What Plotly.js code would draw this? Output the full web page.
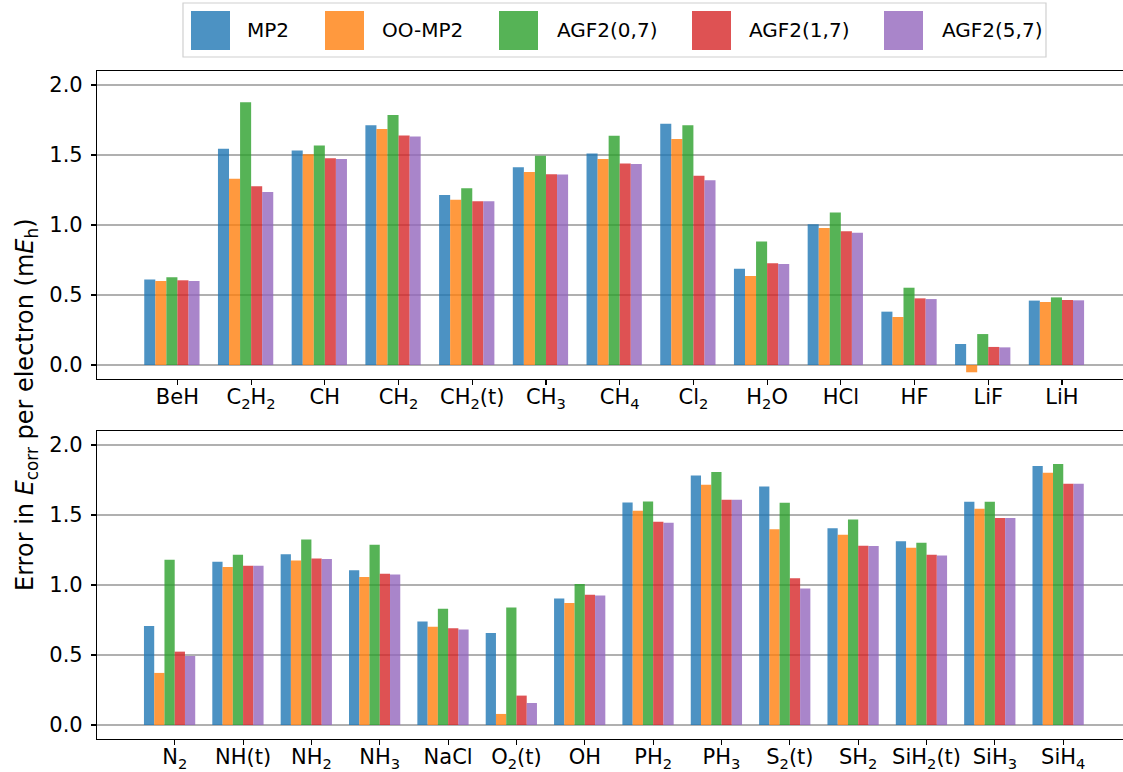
<!DOCTYPE html>
<html>
<head>
<meta charset="utf-8">
<script src="https://cdn.plot.ly/plotly-3.0.1.min.js"></script>
<style>
  html, body { margin: 0; padding: 0; background: #ffffff; }
  #chart { width: 1123px; height: 772px; }
</style>
</head>
<body>
<div id="chart"></div>
<script>
// ---------------- data ----------------
const seriesNames = ['MP2', 'OO-MP2', 'AGF2(0,7)', 'AGF2(1,7)', 'AGF2(5,7)'];
const seriesColors = ['rgba(31,119,180,0.8)', 'rgba(255,127,14,0.8)', 'rgba(44,160,44,0.8)', 'rgba(214,39,40,0.8)', 'rgba(148,103,189,0.8)'];

const topCategories = ['BeH', 'C<sub>2</sub>H<sub>2</sub>', 'CH', 'CH<sub>2</sub>', 'CH<sub>2</sub>(t)', 'CH<sub>3</sub>',
  'CH<sub>4</sub>', 'Cl<sub>2</sub>', 'H<sub>2</sub>O', 'HCl', 'HF', 'LiF', 'LiH'];
const topMP2    = [0.610, 1.545, 1.533, 1.712, 1.214, 1.412, 1.510, 1.724, 0.688, 1.005, 0.381, 0.150, 0.460];
const topOOMP2  = [0.600, 1.331, 1.505, 1.686, 1.181, 1.379, 1.471, 1.614, 0.636, 0.979, 0.343, -0.052, 0.450];
const topAGF207 = [0.626, 1.876, 1.567, 1.786, 1.262, 1.495, 1.638, 1.712, 0.883, 1.090, 0.552, 0.221, 0.483];
const topAGF217 = [0.605, 1.276, 1.476, 1.640, 1.169, 1.362, 1.440, 1.352, 0.726, 0.955, 0.476, 0.129, 0.464];
const topAGF257 = [0.600, 1.236, 1.471, 1.633, 1.169, 1.360, 1.436, 1.319, 0.721, 0.945, 0.471, 0.126, 0.462];

const bottomCategories = ['N<sub>2</sub>', 'NH(t)', 'NH<sub>2</sub>', 'NH<sub>3</sub>', 'NaCl', 'O<sub>2</sub>(t)', 'OH',
  'PH<sub>2</sub>', 'PH<sub>3</sub>', 'S<sub>2</sub>(t)', 'SH<sub>2</sub>', 'SiH<sub>2</sub>(t)', 'SiH<sub>3</sub>', 'SiH<sub>4</sub>'];
const bottomMP2    = [0.708, 1.166, 1.220, 1.106, 0.739, 0.658, 0.903, 1.590, 1.783, 1.704, 1.406, 1.313, 1.595, 1.850];
const bottomOOMP2  = [0.372, 1.128, 1.175, 1.058, 0.701, 0.079, 0.872, 1.530, 1.716, 1.399, 1.359, 1.266, 1.545, 1.802];
const bottomAGF207 = [1.180, 1.216, 1.325, 1.287, 0.830, 0.839, 1.008, 1.597, 1.807, 1.588, 1.468, 1.302, 1.595, 1.864];
const bottomAGF217 = [0.524, 1.137, 1.190, 1.080, 0.691, 0.210, 0.930, 1.452, 1.609, 1.049, 1.280, 1.216, 1.478, 1.723];
const bottomAGF257 = [0.493, 1.137, 1.185, 1.075, 0.682, 0.157, 0.925, 1.445, 1.609, 0.975, 1.278, 1.211, 1.478, 1.723];

const yTickVals = [0, 0.5, 1.0, 1.5, 2.0];

// ---------------- figure ----------------
const topSeries = [topMP2, topOOMP2, topAGF207, topAGF217, topAGF257];
const bottomSeries = [bottomMP2, bottomOOMP2, bottomAGF207, bottomAGF217, bottomAGF257];

const W = 1123, H = 772;
const mL = 97, mR = 0, mT = 71, mB = 33;
const plotW = W - mL - mR, plotH = H - mT - mB;
const pxToPaperX = px => (px - mL) / plotW;
const pxToPaperY = py => (H - mB - py) / plotH;

const barW = 0.15;
const traces = [];
seriesNames.forEach((name, i) => {
  traces.push({
    type: 'bar', name: name, x: topCategories, y: topSeries[i],
    xaxis: 'x', yaxis: 'y', width: barW, offset: (i - 3) * barW,
    marker: { color: seriesColors[i], line: { width: 0 } },
    showlegend: false, hoverinfo: 'skip'
  });
  traces.push({
    type: 'bar', name: name, x: bottomCategories, y: bottomSeries[i],
    xaxis: 'x2', yaxis: 'y2', width: barW, offset: (i - 3) * barW,
    marker: { color: seriesColors[i], line: { width: 0 } },
    showlegend: false, hoverinfo: 'skip'
  });
});

const font = { family: 'DejaVu Sans, sans-serif', size: 21, color: '#000000' };

const xCommon = {
  type: 'category', showgrid: false, zeroline: false,
  showline: true, linecolor: '#000000', linewidth: 1.1, mirror: true,
  ticks: 'outside', ticklen: 5, tickwidth: 1.1, tickcolor: '#000000',
  tickfont: font, fixedrange: true, ticklabelstandoff: -6
};
const yCommon = {
  range: [-0.1, 2.1], tickvals: yTickVals, tickformat: '.1f',
  showgrid: true, gridcolor: '#b0b0b0', gridwidth: 1.1, zeroline: false,
  showline: true, linecolor: '#000000', linewidth: 1.1, mirror: false,
  ticks: 'outside', ticklen: 5, tickwidth: 1.1, tickcolor: '#000000',
  tickfont: font, fixedrange: true, ticklabelstandoff: 4
};

const topBottomPx = 379, bottomTopPx = 431;

// manual legend built from series names and colours
const legendPatchX = [191, 325, 499, 692, 884];
const legendTextX = [245, 380, 555, 747, 940];
const shapes = [{
  type: 'rect', xref: 'paper', yref: 'paper',
  x0: pxToPaperX(183), x1: pxToPaperX(1046), y0: pxToPaperY(57), y1: pxToPaperY(3),
  line: { color: '#d0d0d0', width: 1.2 }, fillcolor: 'rgba(255,255,255,0.8)'
}];
const annotations = [];
seriesNames.forEach((name, i) => {
  shapes.push({
    type: 'rect', xref: 'paper', yref: 'paper',
    x0: pxToPaperX(legendPatchX[i]), x1: pxToPaperX(legendPatchX[i] + 39),
    y0: pxToPaperY(50), y1: pxToPaperY(11),
    line: { width: 0 }, fillcolor: seriesColors[i]
  });
  annotations.push({
    xref: 'paper', yref: 'paper', x: pxToPaperX(legendTextX[i]), y: pxToPaperY(30),
    xanchor: 'left', yanchor: 'middle', showarrow: false, text: name,
    font: { family: 'DejaVu Sans, sans-serif', size: 20, color: '#000000' }
  });
});
annotations.push({
  xref: 'paper', yref: 'paper', x: pxToPaperX(26), y: pxToPaperY(405),
  xanchor: 'center', yanchor: 'middle', showarrow: false, textangle: -90,
  text: 'Error in <i>E</i><sub>corr</sub> per electron (m<i>E</i><sub>h</sub>)',
  font: { family: 'DejaVu Sans, sans-serif', size: 24, color: '#000000' }
});

const layout = {
  width: W, height: H,
  margin: { l: mL, r: mR, t: mT, b: mB, pad: 0 },
  paper_bgcolor: '#ffffff', plot_bgcolor: '#ffffff',
  font: font,
  barmode: 'overlay',
  showlegend: false,
  xaxis: Object.assign({}, xCommon, { anchor: 'y', range: [-1.091, 12.828] }),
  yaxis: Object.assign({}, yCommon, { anchor: 'x', domain: [pxToPaperY(topBottomPx), 1] }),
  xaxis2: Object.assign({}, xCommon, { anchor: 'y2', range: [-1.137, 13.874] }),
  yaxis2: Object.assign({}, yCommon, { anchor: 'x2', domain: [0, pxToPaperY(bottomTopPx)] }),
  shapes: shapes,
  annotations: annotations
};

Plotly.newPlot('chart', traces, layout, { displayModeBar: false, staticPlot: true });
</script>
</body>
</html>
